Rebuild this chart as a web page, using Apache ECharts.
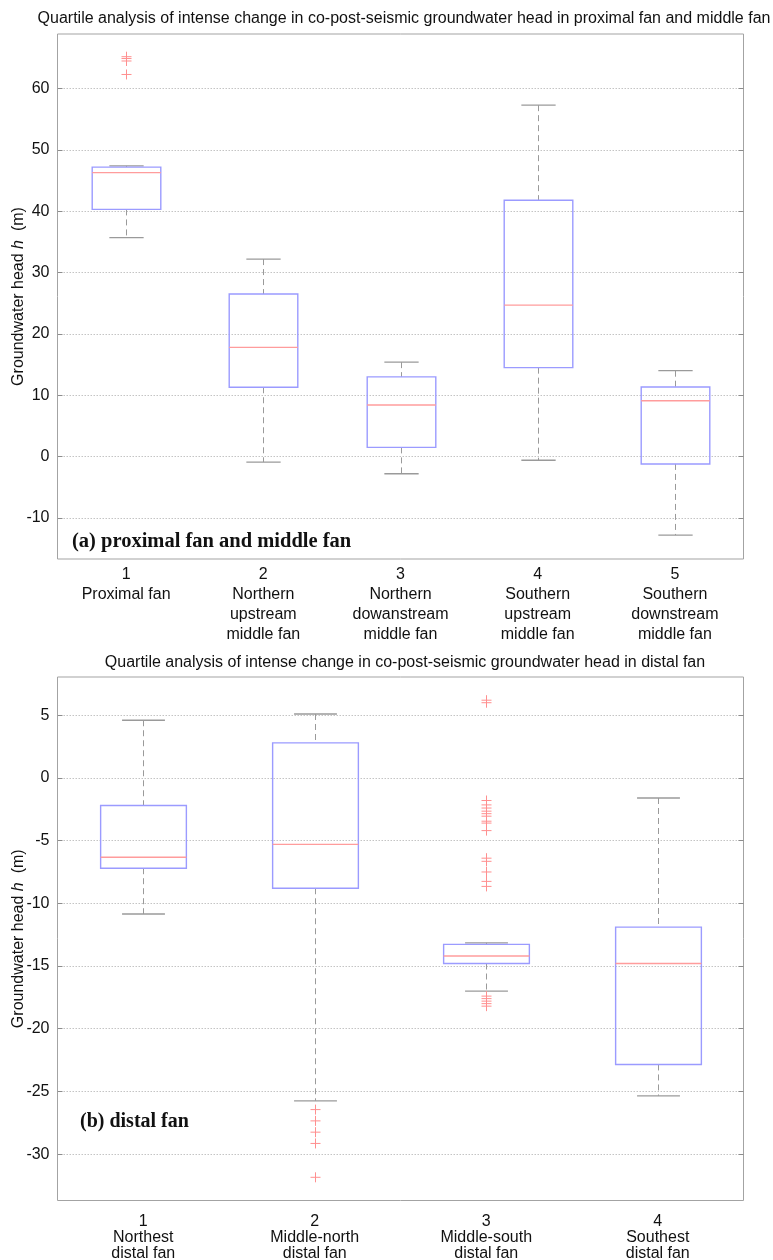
<!DOCTYPE html>
<html>
<head>
<meta charset="utf-8">
<title>Quartile analysis of co-post-seismic groundwater head</title>
<script src="https://cdn.jsdelivr.net/npm/echarts@6/dist/echarts.min.js"></script>
<style>
  html, body { margin: 0; padding: 0; background: #ffffff; }
  #chart { width: 773px; height: 1260px; }
</style>
</head>
<body>
<div id="chart"></div>
<script>
// ---- (a) proximal fan and middle fan ----
const categoriesA = [
  'Proximal fan',
  'Northern\nupstream\nmiddle fan',
  'Northern\ndowanstream\nmiddle fan',
  'Southern\nupstream\nmiddle fan',
  'Southern\ndownstream\nmiddle fan'
];
const lowerWhiskerA = [35.7, -0.9, -2.8, -0.6, -12.8];
const q1A = [40.3, 11.3, 1.5, 14.5, -1.2];
const medianA = [46.3, 17.8, 8.4, 24.7, 9.1];
const q3A = [47.2, 26.5, 13.0, 41.8, 11.35];
const upperWhiskerA = [47.4, 32.2, 15.4, 57.3, 14.0];
// outliers: [category index, value]
const outliersA = [[0, 65.2], [0, 64.9], [0, 64.5], [0, 62.3]];
const yTicksA = [-10, 0, 10, 20, 30, 40, 50, 60];
const yRangeA = [-16.7, 68.9];

// ---- (b) distal fan ----
const categoriesB = [
  'Northest\ndistal fan',
  'Middle-north\ndistal fan',
  'Middle-south\ndistal fan',
  'Southest\ndistal fan'
];
const lowerWhiskerB = [-10.85, -25.75, -17.0, -25.35];
const q1B = [-7.2, -8.8, -14.8, -22.85];
const medianB = [-6.33, -5.3, -14.2, -14.8];
const q3B = [-2.2, 2.8, -13.27, -11.9];
const upperWhiskerB = [4.6, 5.1, -13.15, -1.6];
const outliersB = [
  [1, -26.45], [1, -27.35], [1, -28.25], [1, -29.15], [1, -31.85],
  [2, 6.2], [2, 6.0],
  [2, -1.8], [2, -2.15], [2, -2.4], [2, -2.65], [2, -2.85], [2, -3.05], [2, -3.45], [2, -3.6],
  [2, -4.2], [2, -6.4], [2, -6.65], [2, -7.5], [2, -8.25], [2, -8.65],
  [2, -17.4], [2, -17.6], [2, -17.8], [2, -18.0], [2, -18.2]
];
const yTicksB = [-30, -25, -20, -15, -10, -5, 0, 5];
const yRangeB = [-33.7, 8.05];

const FONT = '"Liberation Sans", Arial, sans-serif';
const BOX_COLOR = '#9b9bff';
const MEDIAN_COLOR = '#ff9c9c';
const WHISKER_COLOR = '#9a9a9a';
const OUTLIER_COLOR = '#ff8f8f';
const FRAME_COLOR = '#a3a3a3';
const GRID_COLOR = '#c4c4c4';

function boxRows(lo, q1, med, q3, hi) {
  return lo.map((v, i) => [i, v, q1[i], med[i], q3[i], hi[i]]);
}

// Box, whiskers and median drawn in MATLAB boxplot style
function renderBox(params, api) {
  const i = api.value(0);
  const lo = api.coord([i, api.value(1)]);
  const q1 = api.coord([i, api.value(2)]);
  const med = api.coord([i, api.value(3)]);
  const q3 = api.coord([i, api.value(4)]);
  const hi = api.coord([i, api.value(5)]);
  const band = api.size([1, 0])[0];
  const bw = band * 0.5;
  const cw = band * 0.25;
  const x = Math.round(lo[0]) + 0.5;
  const dash = { stroke: WHISKER_COLOR, lineWidth: 1, lineDash: [6, 4] };
  const cap = { stroke: WHISKER_COLOR, lineWidth: 1.3 };
  return {
    type: 'group',
    children: [
      { type: 'line', shape: { x1: x, y1: hi[1], x2: x, y2: q3[1] }, style: dash },
      { type: 'line', shape: { x1: x, y1: q1[1], x2: x, y2: lo[1] }, style: dash },
      { type: 'line', shape: { x1: x - cw / 2, y1: hi[1], x2: x + cw / 2, y2: hi[1] }, style: cap },
      { type: 'line', shape: { x1: x - cw / 2, y1: lo[1], x2: x + cw / 2, y2: lo[1] }, style: cap },
      { type: 'rect', shape: { x: x - bw / 2, y: q3[1], width: bw, height: q1[1] - q3[1] },
        style: { fill: 'none', stroke: BOX_COLOR, lineWidth: 1.4 } },
      { type: 'line', shape: { x1: x - bw / 2, y1: med[1], x2: x + bw / 2, y2: med[1] },
        style: { stroke: MEDIAN_COLOR, lineWidth: 1.4 } }
    ]
  };
}

// '+' marker for outliers
function renderPlus(params, api) {
  const p = api.coord([api.value(0), api.value(1)]);
  const r = 5;
  const x = Math.round(p[0]) + 0.5;
  const st = { stroke: OUTLIER_COLOR, lineWidth: 1 };
  return {
    type: 'group',
    children: [
      { type: 'line', shape: { x1: x - r, y1: p[1], x2: x + r, y2: p[1] }, style: st },
      { type: 'line', shape: { x1: x, y1: p[1] - r, x2: x, y2: p[1] + r }, style: st }
    ]
  };
}

function xAxisFor(gridIndex, cats, lineHeight, margin) {
  return {
    type: 'category',
    gridIndex: gridIndex,
    data: cats,
    boundaryGap: true,
    axisLine: { show: false },
    axisTick: { show: false },
    splitLine: { show: false },
    axisLabel: {
      interval: 0,
      margin: margin,
      color: '#111',
      fontFamily: FONT,
      fontSize: 16,
      lineHeight: lineHeight,
      formatter: (val, idx) => (idx + 1) + '\n' + val
    }
  };
}

function yAxesFor(gridIndex, range, ticks) {
  const common = {
    type: 'value',
    gridIndex: gridIndex,
    min: range[0],
    max: range[1],
    axisLine: { show: false }
  };
  return [
    Object.assign({}, common, {
      position: 'left',
      name: 'Groundwater head {i|h}  (m)',
      nameLocation: 'middle',
      nameGap: 31,
      nameRotate: 90,
      nameMoveOverlap: false,
      nameTextStyle: {
        fontFamily: FONT, fontSize: 16, color: '#111',
        rich: { i: { fontFamily: FONT, fontSize: 16, fontStyle: 'italic', color: '#111' } }
      },
      axisTick: { show: true, inside: true, length: 5, customValues: ticks,
        lineStyle: { color: '#8c8c8c' } },
      axisLabel: { show: true, customValues: ticks, margin: 8, color: '#111',
        fontFamily: FONT, fontSize: 16 },
      splitLine: { show: true, lineStyle: { color: GRID_COLOR, type: [1.5, 1.5], width: 1 } }
    }),
    Object.assign({}, common, {
      position: 'right',
      axisTick: { show: true, inside: true, length: 5, customValues: ticks,
        lineStyle: { color: '#8c8c8c' } },
      axisLabel: { show: false },
      splitLine: { show: false }
    })
  ];
}

const chart = echarts.init(document.getElementById('chart'), null, { renderer: 'canvas' });

const gridCommon = {
  left: 57.5, right: 29.5, show: true,
  outerBoundsMode: 'none', containLabel: false,
  borderColor: FRAME_COLOR, borderWidth: 1, backgroundColor: 'transparent'
};

chart.setOption({
  animation: false,
  backgroundColor: '#ffffff',
  title: [
    {
      text: 'Quartile analysis of intense change in co-post-seismic groundwater head in proximal fan and middle fan',
      left: 399, top: 6, textAlign: 'center',
      textStyle: { fontFamily: FONT, fontSize: 16, fontWeight: 'normal', color: '#111' }
    },
    {
      text: 'Quartile analysis of intense change in co-post-seismic groundwater head in distal fan',
      left: 400, top: 650, textAlign: 'center',
      textStyle: { fontFamily: FONT, fontSize: 16, fontWeight: 'normal', color: '#111' }
    }
  ],
  grid: [
    Object.assign({}, gridCommon, { top: 34, height: 525 }),
    Object.assign({}, gridCommon, { top: 677, height: 523.5 })
  ],
  xAxis: [
    xAxisFor(0, categoriesA, 20, 6),
    xAxisFor(1, categoriesB, 16, 13)
  ],
  yAxis: yAxesFor(0, yRangeA, yTicksA).concat(yAxesFor(1, yRangeB, yTicksB)),
  graphic: [
    {
      type: 'text', left: 72, top: 531,
      style: { text: '(a) proximal fan and middle fan', fill: '#111',
        font: 'bold 20.5px "Liberation Serif", "Times New Roman", serif' }
    },
    {
      type: 'text', left: 80, top: 1112,
      style: { text: '(b) distal fan', fill: '#111',
        font: 'bold 20px "Liberation Serif", "Times New Roman", serif' }
    }
  ],
  series: [
    {
      type: 'custom', name: 'boxes (a)', xAxisIndex: 0, yAxisIndex: 0,
      renderItem: renderBox,
      encode: { x: 0, y: [1, 2, 3, 4, 5] },
      data: boxRows(lowerWhiskerA, q1A, medianA, q3A, upperWhiskerA),
      z: 3
    },
    {
      type: 'custom', name: 'outliers (a)', xAxisIndex: 0, yAxisIndex: 0,
      renderItem: renderPlus,
      encode: { x: 0, y: 1 },
      data: outliersA,
      z: 4
    },
    {
      type: 'custom', name: 'boxes (b)', xAxisIndex: 1, yAxisIndex: 2,
      renderItem: renderBox,
      encode: { x: 0, y: [1, 2, 3, 4, 5] },
      data: boxRows(lowerWhiskerB, q1B, medianB, q3B, upperWhiskerB),
      z: 3
    },
    {
      type: 'custom', name: 'outliers (b)', xAxisIndex: 1, yAxisIndex: 2,
      renderItem: renderPlus,
      encode: { x: 0, y: 1 },
      data: outliersB,
      z: 4
    }
  ]
});
</script>
</body>
</html>
